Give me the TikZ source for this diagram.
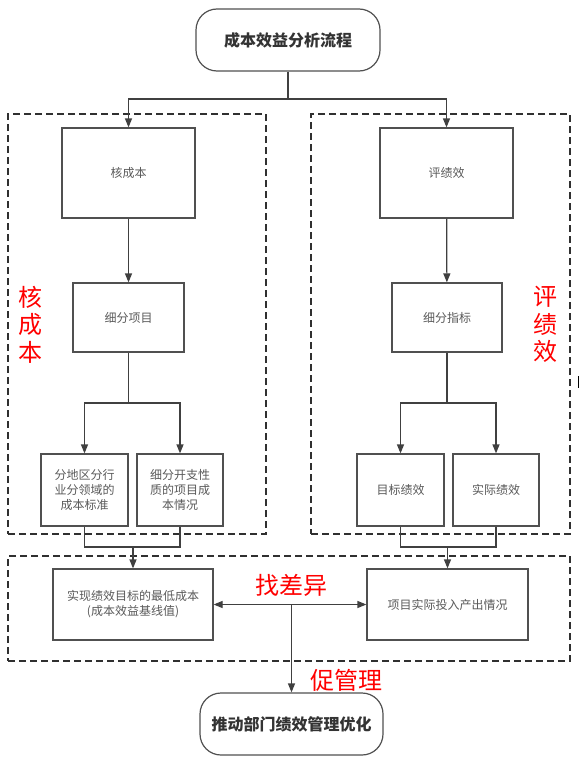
\documentclass[tikz,border=0pt]{standalone}
\usepackage{fontspec}
\setmainfont{Noto Sans CJK SC}
\usetikzlibrary{arrows.meta}
\definecolor{boxline}{HTML}{505050}
\definecolor{conn}{HTML}{404040}
\definecolor{txtgray}{HTML}{595959}
\definecolor{titletxt}{HTML}{333333}
\definecolor{dashcol}{HTML}{303030}
\definecolor{redlab}{HTML}{FF0000}
\tikzset{
  stepbox/.style={draw=boxline, line width=1.2pt, inner sep=0pt, align=center,
    text=txtgray, font=\fontsize{12}{15}\selectfont},
  termbox/.style={draw=boxline, line width=1.2pt, rounded corners=21pt, inner sep=0pt,
    align=center, text=titletxt, font=\fontsize{16}{19}\selectfont\bfseries},
  grp/.style={draw=dashcol, line width=1.3pt, dash pattern=on 7pt off 4pt},
  link/.style={draw=conn, line width=1.2pt},
  arr/.style={link, -{Triangle[length=9pt,width=7pt]}},
  redtag/.style={text=redlab, inner sep=0pt, align=center, font=\fontsize{24}{27.5}\selectfont},
}
\begin{document}
\begin{tikzpicture}[x=1pt,y=-1pt]
\useasboundingbox (0,0) rectangle (580,760);
% groups
\node[grp, inner sep=0pt, minimum width=258pt, minimum height=420pt] (gl) at (137,324) {};
\node[grp, inner sep=0pt, minimum width=259pt, minimum height=420pt] (gr) at (440.5,324) {};
\node[grp, inner sep=0pt, minimum width=562pt, minimum height=105pt] (gb) at (289,608.5) {};
% nodes
\node[termbox, minimum width=184pt, minimum height=62pt] (title) at (288,40) {成本效益分析流程};
\node[stepbox, minimum width=133pt, minimum height=90pt] (hcb) at (128.5,173) {核成本};
\node[stepbox, minimum width=133pt, minimum height=90pt] (pjx) at (446.5,173) {评绩效};
\node[stepbox, minimum width=111pt, minimum height=69pt] (xfxm) at (128.5,317.5) {细分项目};
\node[stepbox, minimum width=110pt, minimum height=69pt] (xfzb) at (447,317.5) {细分指标};
\node[stepbox, minimum width=87pt, minimum height=72pt] (b1) at (84.5,490) {分地区分行\\业分领域的\\成本标准};
\node[stepbox, minimum width=86pt, minimum height=72pt] (b2) at (180,490) {细分开支性\\质的项目成\\本情况};
\node[stepbox, minimum width=87pt, minimum height=72pt] (b3) at (400.5,490) {目标绩效};
\node[stepbox, minimum width=86pt, minimum height=72pt] (b4) at (496,490) {实际绩效};
\node[stepbox, minimum width=160pt, minimum height=71pt] (c1) at (133,604.5) {实现绩效目标的最低成本\\(成本效益基线值)};
\node[stepbox, minimum width=161pt, minimum height=71pt] (c2) at (447.5,604.5) {项目实际投入产出情况};
\node[termbox, minimum width=183pt, minimum height=62pt] (fin) at (291.5,724) {推动部门绩效管理优化};
% red tags
\node[redtag] (t1) at (30,324.5) {核\\成\\本};
\node[redtag] (t2) at (545,324.5) {评\\绩\\效};
\node[redtag] (t3) at (291.5,585) {找差异};
\node[redtag] (t4) at (346,680.5) {促管理};
% connectors
\coordinate (top) at (288,99);
\draw[link] (title.south) -- (top);
\draw[arr] (top) -| (hcb.north);
\draw[arr] (top) -| (pjx.north);
\draw[arr] (hcb) -- (xfxm);
\draw[arr] (pjx) -- (xfzb);
\coordinate (sl) at (128.5,403);
\coordinate (sr) at (447,403);
\draw[link] (xfxm.south) -- (sl);
\draw[arr] (sl) -| (b1.north);
\draw[arr] (sl) -| (b2.north);
\draw[link] (xfzb.south) -- (sr);
\draw[arr] (sr) -| (b3.north);
\draw[arr] (sr) -| (b4.north);
\coordinate (ml) at (133,547);
\coordinate (mr) at (447.5,547);
\draw[link] (b1.south) |- (ml);
\draw[link] (b2.south) |- (ml);
\draw[arr] (ml) -- (c1.north);
\draw[link] (b3.south) |- (mr);
\draw[link] (b4.south) |- (mr);
\draw[arr] (mr) -- (c2.north);
\coordinate (mid) at (291.5,604.5);
\draw[arr] (mid) -- (c1.east);
\draw[arr] (mid) -- (c2.west);
\draw[arr] (mid) -- (fin.north);
% edge artefact
\coordinate (m1) at (578.5,376);
\coordinate (m2) at (578.5,388);
\draw[line width=1.5pt, black] (m1) -- (m2);
\end{tikzpicture}
\end{document}
